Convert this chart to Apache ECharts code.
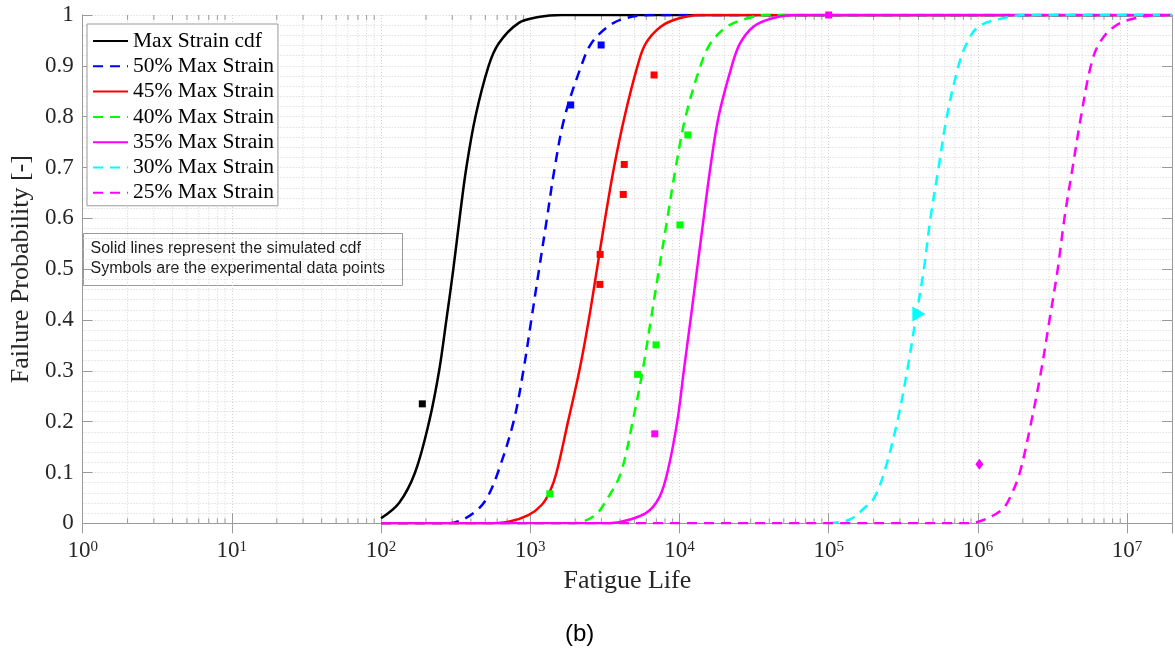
<!DOCTYPE html>
<html>
<head>
<meta charset="utf-8">
<title>Fatigue life cdf</title>
<script src="https://cdn.jsdelivr.net/npm/echarts@6/dist/echarts.min.js"></script>
<style>
  html, body { margin: 0; padding: 0; background: #fff; }
  #chart { width: 1175px; height: 666px; }
</style>
</head>
<body>
<div id="chart"></div>
<script>
// ---- Simulated cdf curves: fatigue life (cycles) vs failure probability ----
const cdfMaxLife  = [100, 132, 169, 210, 245, 274, 305, 336, 373, 429, 526, 614, 834, 1132, 1622, 20000000];
const cdfMaxProb  = [0.01, 0.04, 0.1, 0.2, 0.3, 0.4, 0.5, 0.6, 0.7, 0.8, 0.9, 0.944, 0.984, 0.996, 1, 1];

const cdf50Life = [100, 282, 350, 440, 513, 607, 773, 899, 1016, 1146, 1294, 1459, 1702, 2198, 2564, 3311, 4266, 6427, 20000000];
const cdf50Prob = [0, 0, 0.007, 0.026, 0.05, 0.1, 0.2, 0.3, 0.4, 0.5, 0.6, 0.7, 0.8, 0.9, 0.944, 0.977, 0.993, 1, 1];

const cdf45Life = [100, 501, 714, 971, 1191, 1352, 1500, 1791, 2133, 2466, 2799, 3177, 3639, 4285, 5236, 5943, 7482, 9840, 13800, 20000000];
const cdf45Prob = [0, 0, 0.003, 0.016, 0.036, 0.062, 0.1, 0.2, 0.3, 0.4, 0.5, 0.6, 0.7, 0.8, 0.9, 0.944, 0.977, 0.993, 1, 1];

const cdf40Life = [100, 1905, 2692, 3311, 4055, 4853, 5662, 6427, 7295, 8299, 9441, 10990, 13840, 16110, 20800, 28250, 38370, 20000000];
const cdf40Prob = [0, 0, 0.015, 0.05, 0.1, 0.2, 0.3, 0.4, 0.5, 0.6, 0.7, 0.8, 0.9, 0.944, 0.977, 0.993, 1, 1];

const cdf35Life = [100, 3162, 4055, 5957, 7295, 8299, 9661, 10690, 11860, 13120, 14520, 16110, 18280, 22440, 25470, 31260, 41400, 57680, 20000000];
const cdf35Prob = [0, 0, 0.003, 0.02, 0.05, 0.1, 0.2, 0.3, 0.4, 0.5, 0.6, 0.7, 0.8, 0.9, 0.944, 0.977, 0.993, 1, 1];

const cdf30Life = [100000, 137400, 177800, 201800, 235500, 288400, 335700, 381900, 434500, 480800, 545800, 619400, 741300, 841400, 1007000, 1439000, 2168000, 20000000];
const cdf30Prob = [0, 0.007, 0.033, 0.05, 0.1, 0.2, 0.3, 0.4, 0.5, 0.6, 0.7, 0.8, 0.9, 0.944, 0.977, 0.993, 1, 1];

const cdf25Life = [100, 794300, 1007000, 1439000, 1637000, 1910000, 2280000, 2655000, 3020000, 3428000, 3802000, 4315000, 4909000, 5715000, 6501000, 8185000, 11120000, 16710000, 20000000];
const cdf25Prob = [0, 0, 0.003, 0.026, 0.05, 0.1, 0.2, 0.3, 0.4, 0.5, 0.6, 0.7, 0.8, 0.9, 0.944, 0.977, 0.993, 1, 1];

// ---- Experimental data points ----
const expMaxLife = [189];
const expMaxProb = [0.235];
const exp50Life  = [1866, 2985];
const exp50Prob  = [0.823, 0.941];
const exp45Life  = [6757, 4266, 4200, 2940, 2927];
const exp45Prob  = [0.882, 0.706, 0.647, 0.529, 0.470];
const exp40Life  = [11380, 10070, 6966, 5240, 1352];
const exp40Prob  = [0.764, 0.587, 0.351, 0.293, 0.058];
const exp35Life  = [6830, 100000];
const exp35Prob  = [0.176, 1.0];
const exp30Life  = [402000];
const exp30Prob  = [0.412];
const exp25Life  = [1023000];
const exp25Prob  = [0.116];

// ---- Axis settings ----
const xMin = 1, xMax = 20000000;
const minorMultipliers = [2, 3, 4, 5, 6, 7, 8, 9];
const decades = [1, 10, 100, 1000, 10000, 100000, 1000000, 10000000];

const serif = '"Liberation Serif", "Times New Roman", serif';
const sans = '"Liberation Sans", Arial, Helvetica, sans-serif';
const axisGray = '#9a9a9a';
const gridGray = '#d2d2d2';
const tickText = '#262626';

const pairs = (xs, ys) => xs.map((x, i) => [x, ys[i]]);

const minorX = [];
decades.forEach(d => minorMultipliers.forEach(m => {
  const v = d * m;
  if (v < xMax) minorX.push([v, 0]);
}));

function curve(name, life, prob, color, dashed) {
  return {
    name, type: 'line', data: pairs(life, prob),
    symbol: 'none', smooth: 0.35,
    lineStyle: { color, width: 2.5, type: dashed ? [10, 7] : 'solid', cap: 'butt', join: 'round' },
    itemStyle: { color },
    z: 3, silent: true, animation: false
  };
}

function points(name, life, prob, color, symbol, size, rotate) {
  return {
    name, type: 'scatter', data: pairs(life, prob),
    symbol, symbolSize: size, symbolRotate: rotate || 0,
    itemStyle: { color, opacity: 1 },
    z: 5, silent: true, animation: false
  };
}

const chart = echarts.init(document.getElementById('chart'), null, { renderer: 'canvas' });

const xLabelFormatter = v => {
  const l = Math.log10(v);
  const k = Math.round(l);
  if (Math.abs(l - k) > 1e-6) return '';
  return '{b|10}{s|' + k + '}';
};

chart.setOption({
  backgroundColor: '#ffffff',
  animation: false,
  grid: { left: 77.7, top: 15, right: 0, bottom: 142.7, containLabel: false },
  legend: {
    data: ['Max Strain cdf', '50% Max Strain', '45% Max Strain', '40% Max Strain', '35% Max Strain', '30% Max Strain', '25% Max Strain'],
    orient: 'vertical', left: 87, top: 24,
    itemWidth: 35, itemHeight: 14, itemGap: 3.3,
    padding: [6, 4, 2, 5],
    backgroundColor: '#ffffff', borderColor: '#9a9a9a', borderWidth: 1, borderRadius: 0,
    selectedMode: false,
    itemStyle: { opacity: 0, borderWidth: 0 },
    textStyle: { fontFamily: serif, fontSize: 21.5, color: '#000', lineHeight: 22 }
  },
  xAxis: [{
    type: 'log', logBase: 10, min: xMin, max: xMax,
    name: 'Fatigue Life', nameLocation: 'middle', nameGap: 45,
    nameTextStyle: { fontFamily: serif, fontSize: 26, color: tickText },
    axisLine: { show: true, lineStyle: { color: axisGray, width: 1 } },
    axisTick: { show: true, inside: true, length: 10, lineStyle: { color: axisGray } },
    axisLabel: {
      formatter: xLabelFormatter, margin: 16, color: tickText,
      rich: {
        b: { fontFamily: serif, fontSize: 23, color: tickText },
        s: { fontFamily: serif, fontSize: 15, color: tickText, padding: [0, 0, 9, 0] }
      }
    },
    splitLine: { show: true, lineStyle: { color: gridGray, width: 1, type: [1, 2] } }
  }, {
    type: 'log', logBase: 10, min: xMin, max: xMax, position: 'top',
    axisLine: { show: true, lineStyle: { color: axisGray, width: 1 } },
    axisTick: { show: true, inside: true, length: 10, lineStyle: { color: axisGray } },
    axisLabel: { show: false },
    splitLine: { show: false }
  }],
  yAxis: [{
    type: 'value', min: 0, max: 1, interval: 0.1,
    name: 'Failure Probability [-]', nameLocation: 'middle', nameGap: 36, nameRotate: 90,
    nameTextStyle: { fontFamily: serif, fontSize: 26, color: tickText },
    axisLine: { show: true, lineStyle: { color: axisGray, width: 1 } },
    axisTick: { show: true, inside: true, length: 10, lineStyle: { color: axisGray } },
    axisLabel: { fontFamily: serif, fontSize: 23, color: tickText, margin: 9 },
    splitLine: { show: true, lineStyle: { color: gridGray, width: 1, type: [1, 2] } },
    minorTick: { show: false, splitNumber: 5 },
    minorSplitLine: { show: true, lineStyle: { color: gridGray, width: 1, type: [1, 2] } }
  }, {
    type: 'value', min: 0, max: 1, interval: 0.1, position: 'right',
    axisLine: { show: true, lineStyle: { color: axisGray, width: 1 } },
    axisTick: { show: true, inside: true, length: 10, lineStyle: { color: axisGray } },
    axisLabel: { show: false },
    splitLine: { show: false }
  }],
  series: [
    {
      // minor decade lines (2..9 x 10^k): dotted grid plus short ticks on bottom and top axes
      type: 'custom', silent: true, z: 1, animation: false,
      data: minorX,
      renderItem: (params, api) => {
        const x = api.value(0);
        const pb = api.coord([x, 0]);
        const pt = api.coord([x, 1]);
        return {
          type: 'group',
          children: [
            { type: 'line', shape: { x1: pb[0], y1: pb[1], x2: pt[0], y2: pt[1] },
              style: { stroke: gridGray, lineWidth: 1, lineDash: [1, 2] } },
            { type: 'line', shape: { x1: pb[0], y1: pb[1], x2: pb[0], y2: pb[1] - 5 },
              style: { stroke: axisGray, lineWidth: 1 } },
            { type: 'line', shape: { x1: pt[0], y1: pt[1], x2: pt[0], y2: pt[1] + 5 },
              style: { stroke: axisGray, lineWidth: 1 } }
          ]
        };
      }
    },
    curve('Max Strain cdf', cdfMaxLife, cdfMaxProb, '#000000', false),
    curve('50% Max Strain', cdf50Life, cdf50Prob, '#0000ff', true),
    curve('45% Max Strain', cdf45Life, cdf45Prob, '#ff0000', false),
    curve('40% Max Strain', cdf40Life, cdf40Prob, '#00ff00', true),
    curve('35% Max Strain', cdf35Life, cdf35Prob, '#ff00ff', false),
    curve('30% Max Strain', cdf30Life, cdf30Prob, '#00ffff', true),
    curve('25% Max Strain', cdf25Life, cdf25Prob, '#ff00ff', true),
    points('Max Strain data', expMaxLife, expMaxProb, '#000000', 'rect', 7),
    points('50% data', exp50Life, exp50Prob, '#0000ff', 'rect', 7),
    points('45% data', exp45Life, exp45Prob, '#ff0000', 'rect', 7),
    points('40% data', exp40Life, exp40Prob, '#00ff00', 'rect', 7),
    points('35% data', exp35Life, exp35Prob, '#ff00ff', 'rect', 7),
    points('30% data', exp30Life, exp30Prob, '#00ffff', 'triangle', [15, 13], -90),
    points('25% data', exp25Life, exp25Prob, '#ff00ff', 'diamond', [8, 11])
  ],
  graphic: [
    {
      type: 'group', left: 83, top: 233, z: 20,
      children: [
        { type: 'rect', shape: { x: 0, y: 0, width: 319, height: 52 },
          style: { fill: '#ffffff', stroke: '#9a9a9a', lineWidth: 1 } },
        { type: 'text', x: 7, y: 15,
          style: { text: 'Solid lines represent the simulated cdf', font: '16px ' + sans,
                   fill: '#1a1a1a', verticalAlign: 'middle' } },
        { type: 'text', x: 7, y: 35,
          style: { text: 'Symbols are the experimental data points', font: '16px ' + sans,
                   fill: '#1a1a1a', verticalAlign: 'middle' } }
      ]
    },
    {
      type: 'text', left: 565, top: 622, z: 20,
      style: { text: '(b)', font: '24px ' + sans, fill: '#000000' }
    }
  ]
});
</script>
</body>
</html>
